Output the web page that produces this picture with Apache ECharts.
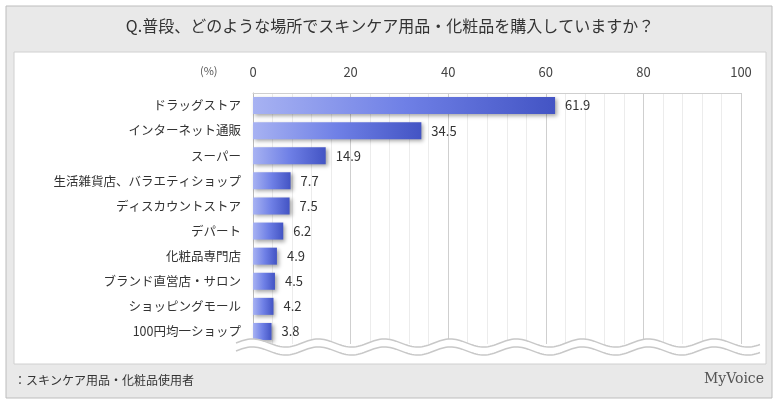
<!DOCTYPE html>
<html><head><meta charset="utf-8">
<script src="https://cdn.jsdelivr.net/npm/echarts@6/dist/echarts.min.js"></script>
<style>body{margin:0;background:#fff}#c{width:780px;height:405px}</style>
</head><body><div id="c"></div>
<script>
const categories = ['ドラッグストア','インターネット通販','スーパー','生活雑貨店、バラエティショップ','ディスカウントストア','デパート','化粧品専門店','ブランド直営店・サロン','ショッピングモール','100円均一ショップ'];
const values = [61.9,34.5,14.9,7.7,7.5,6.2,4.9,4.5,4.2,3.8];

const chart = echarts.init(document.getElementById('c'));
const font = '"Noto Sans CJK JP", sans-serif';

// wavy break line under the last bar (decoration)
function wave(y) {
  const pts = [];
  for (let x = 236; x <= 760; x += 2) pts.push([x, y - 4 * Math.sin((x - 236) / 66 * Math.PI * 2)]);
  return pts;
}

chart.setOption({
  animation: false,
  textStyle: { fontFamily: font },
  graphic: [
    { type: 'rect', shape: { x: 6, y: 6, width: 766, height: 392 }, style: { fill: '#e9e9e9', stroke: '#bdbdbd' }, z: -10 },
    { type: 'rect', shape: { x: 14, y: 52, width: 752, height: 312 }, style: { fill: '#fff', stroke: '#d0d0d0' }, z: -9 },
    { type: 'text', left: 'center', top: 18, style: { text: 'Q.普段、どのような場所でスキンケア用品・化粧品を購入していますか？', font: '16px ' + font, fill: '#333' } },
    { type: 'text', left: 200, top: 65, style: { text: '(%)', font: '11px ' + font, fill: '#555' } },
    { type: 'text', left: 14, top: 374, style: { text: '：スキンケア用品・化粧品使用者', font: '12px ' + font, fill: '#333' } },
    { type: 'text', right: 16, top: 372, style: { text: 'MyVoice', font: '14px "DejaVu Serif", serif', fill: '#555' } },
    { type: 'polyline', shape: { points: wave(347) }, style: { stroke: '#fff', lineWidth: 8, fill: null }, z: 50 },
    { type: 'polyline', shape: { points: wave(343) }, style: { stroke: '#c8c8c8', lineWidth: 1.5, fill: null }, z: 51 },
    { type: 'polyline', shape: { points: wave(351) }, style: { stroke: '#c8c8c8', lineWidth: 1.5, fill: null }, z: 51 }
  ],
  grid: { left: 253, right: 39, top: 93, height: 251 },
  xAxis: {
    type: 'value', position: 'top', min: 0, max: 100, interval: 20,
    axisLabel: { color: '#444', fontSize: 13, margin: 14 },
    axisLine: { show: true, lineStyle: { color: '#cfcfcf' } }, axisTick: { show: false },
    splitLine: { lineStyle: { color: '#cfcfcf' } },
    minorSplitLine: { show: true, lineStyle: { color: '#ececec' } }
  },
  yAxis: {
    type: 'category', inverse: true, data: categories,
    axisLine: { lineStyle: { color: '#bbb' } }, axisTick: { show: false },
    axisLabel: { color: '#333', fontSize: 12.5, margin: 12 }
  },
  series: [{
    type: 'bar', data: values, barWidth: 17,
    itemStyle: {
      color: new echarts.graphic.LinearGradient(0, 0, 1, 0, [{ offset: 0, color: '#a7b2f2' }, { offset: 0.5, color: '#6f80e6' }, { offset: 1, color: '#4354c4' }]),
      shadowColor: 'rgba(0,0,0,0.35)', shadowBlur: 4, shadowOffsetX: 2, shadowOffsetY: 2
    },
    label: { show: true, position: 'right', distance: 10, color: '#333', fontSize: 13, formatter: p => p.value.toFixed(1) }
  }]
});
</script></body></html>
